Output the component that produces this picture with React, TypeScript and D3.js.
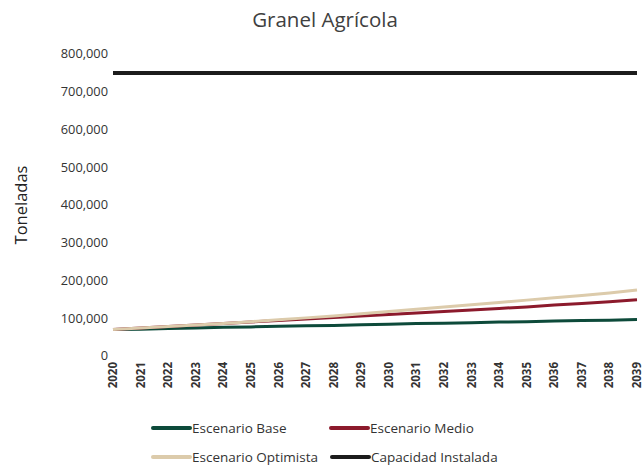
import React from "react";
import * as d3 from "d3";

const years = [2020, 2021, 2022, 2023, 2024, 2025, 2026, 2027, 2028, 2029, 2030, 2031, 2032, 2033, 2034, 2035, 2036, 2037, 2038, 2039];
const base = [70000, 71000, 73000, 74000, 76000, 77000, 79000, 80000, 81000, 83000, 84000, 86000, 87000, 88000, 90000, 91000, 93000, 94000, 95000, 97000];
const medio = [70000, 74000, 78000, 82000, 86000, 90000, 94000, 98000, 102000, 106000, 110000, 114000, 118000, 122000, 126000, 130000, 135000, 139000, 144000, 149000];
const optimista = [70000, 74000, 78000, 82000, 86000, 91000, 96000, 101000, 106000, 112000, 118000, 124000, 130000, 136000, 142000, 148000, 154000, 160000, 167000, 175000];
const capacidad = [750000, 750000, 750000, 750000, 750000, 750000, 750000, 750000, 750000, 750000, 750000, 750000, 750000, 750000, 750000, 750000, 750000, 750000, 750000, 750000];
const yTicks = [0, 100000, 200000, 300000, 400000, 500000, 600000, 700000, 800000];
const seriesNames = ["Escenario Base", "Escenario Medio", "Escenario Optimista", "Capacidad Instalada"];

const colors = ["#0d4a3a", "#8c1a2c", "#dccbab", "#1c1c1c"];
const widths = [3, 3, 3, 4];
const FONT = "'Open Sans', sans-serif";

export default function App() {
  const x = d3.scalePoint<number>().domain(years).range([113, 637]);
  const y = d3.scaleLinear().domain([0, 800000]).range([356, 54]);
  const data = [base, medio, optimista, capacidad];
  const line = d3
    .line<number>()
    .x((_, i) => x(years[i]) as number)
    .y((d) => y(d));
  const fmt = d3.format(",");

  const legend = [
    { x: 153, y: 428 },
    { x: 331, y: 428 },
    { x: 153, y: 457 },
    { x: 332, y: 457 },
  ];

  return (
    <svg
      width={644}
      height={468}
      style={{ position: "absolute", left: 0, top: 0, background: "#fff" }}
      fontFamily={FONT}
    >
      <text x={325} y={27} textAnchor="middle" fontSize={20.5} fill="#404040">
        Granel Agrícola
      </text>
      <text
        transform="translate(21,205) rotate(-90)"
        textAnchor="middle"
        fontSize={16.5}
        dy="0.35em"
        fill="#222"
      >
        Toneladas
      </text>
      {yTicks.map((t) => (
        <text key={t} x={108} y={y(t)} dy="0.35em" textAnchor="end" fontSize={12.8} fill="#333">
          {fmt(t)}
        </text>
      ))}
      {years.map((yr) => (
        <text
          key={yr}
          transform={`translate(${x(yr)},362) rotate(-90)`}
          textAnchor="end"
          dy="0.35em"
          fontSize={11.5}
          fontWeight="bold"
          fill="#333"
        >
          {yr}
        </text>
      ))}
      {data.map((s, i) => (
        <path
          key={i}
          d={line(s) || ""}
          fill="none"
          stroke={colors[i]}
          strokeWidth={widths[i]}
          strokeLinecap="butt"
        />
      ))}
      {seriesNames.map((n, i) => (
        <g key={n}>
          <line
            x1={legend[i].x}
            x2={legend[i].x + 37}
            y1={legend[i].y}
            y2={legend[i].y}
            stroke={colors[i]}
            strokeWidth={4}
            strokeLinecap="round"
          />
          <text x={legend[i].x + 39} y={legend[i].y} dy="0.35em" fontSize={13.5} fill="#333">
            {n}
          </text>
        </g>
      ))}
    </svg>
  );
}
